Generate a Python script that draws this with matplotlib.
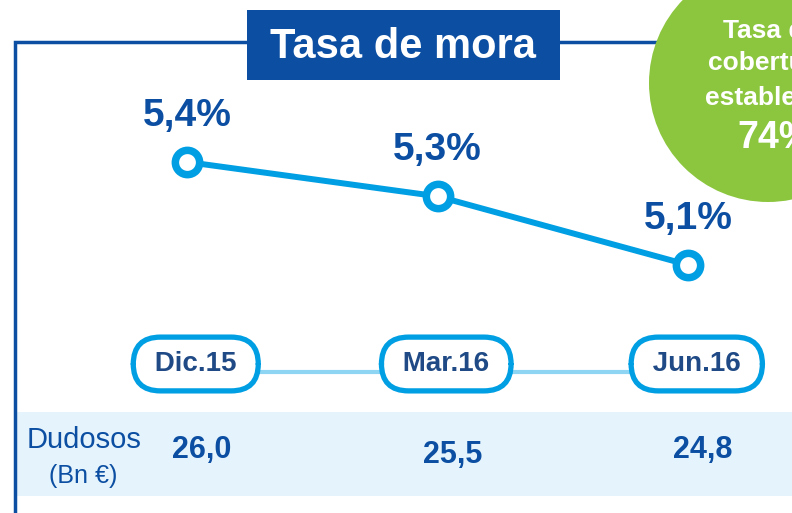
import matplotlib.pyplot as plt
from matplotlib.patches import Rectangle, Circle
from matplotlib.transforms import blended_transform_factory

# datos
periodos = ["Dic.15", "Mar.16", "Jun.16"]
tasa_mora = [5.4, 5.3, 5.1]
etiquetas_tasa = ["5,4%", "5,3%", "5,1%"]
dudosos = ["26,0", "25,5", "24,8"]
cobertura = "74%"

AZUL = "#0B4EA2"
AZUL_OSC = "#1F4A85"
CIAN = "#009FE3"
CIAN_CLARO = "#8ED4F3"
VERDE = "#8CC63F"
FONDO = "#E5F4FC"

plt.rcParams['font.family'] = ['Liberation Sans', 'DejaVu Sans']

fig = plt.figure(figsize=(7.92, 5.13), dpi=100)

# capa de fondo en pixeles
bg = fig.add_axes([0, 0, 1, 1])
bg.set_xlim(0, 792)
bg.set_ylim(513, 0)
bg.axis('off')

bg.add_patch(Rectangle((17, 412), 780, 84, facecolor=FONDO, edgecolor='none', zorder=1))
bg.plot([15, 15, 660], [513, 42, 42], color=AZUL, lw=2.5, solid_joinstyle='miter', zorder=2)
bg.add_patch(Rectangle((247, 10), 313, 70, facecolor=AZUL, edgecolor='none', zorder=3))
bg.text(403, 47, "Tasa de mora", color='white', fontsize=30, fontweight='bold',
        ha='center', va='center', zorder=4)

# circulo verde (recortado por el borde, como en el original)
bg.add_patch(Circle((768, 83), 119, facecolor=VERDE, edgecolor='none', zorder=5))
for txt, x0, y, fs in [("Tasa de", 723, 31, 19), ("cobertura", 708, 63, 19),
                       ("estable", 705, 98, 19), (cobertura, 737, 138, 27)]:
    bg.text(x0, y, txt, color='white', fontsize=fs, fontweight='bold',
            ha='left', va='center', zorder=6)

bg.text(84, 440, "Dudosos", color=AZUL, fontsize=21, ha='center', va='center', zorder=2)
bg.text(83, 476, "(Bn €)", color=AZUL, fontsize=18, ha='center', va='center', zorder=2)

# capa de datos
ax = fig.add_axes([0, 0, 1, 1])
ax.patch.set_alpha(0)
ax.axis('off')
paso = 250.5
ax.set_xlim(-187 / paso, (792 - 187) / paso)
ax.set_ylim(5.4 - (513 - 162) / 343, 5.4 + 162 / 343)

x = list(range(len(periodos)))
ax.plot(x, tasa_mora, color=CIAN, lw=4.3, marker='o', markersize=17.5,
        markerfacecolor='white', markeredgecolor=CIAN, markeredgewidth=5.4, zorder=3)
for xi, v, lab in zip(x, tasa_mora, etiquetas_tasa):
    ax.annotate(lab, (xi, v), xytext=(0, 33), textcoords='offset points',
                ha='center', va='center', fontsize=28, fontweight='bold', color=AZUL)

tr = blended_transform_factory(ax.transData, bg.transData)
ax.plot([x[0], x[-1]], [372, 372], color=CIAN_CLARO, lw=3, transform=tr, zorder=1)
for xi, p in zip(x, periodos):
    ax.text(xi + 0.035, 364, " " + p + " ", transform=tr, ha='center', va='center',
            fontsize=20, fontweight='bold', color=AZUL_OSC, zorder=4,
            bbox=dict(boxstyle='round,pad=0.5,rounding_size=0.98', facecolor='white',
                      edgecolor=CIAN, linewidth=3.8))

val_y = [450, 455, 450]
for xi, d, yy in zip(x, dudosos, val_y):
    ax.text(xi + 0.06, yy, d, transform=tr, ha='center', va='center', fontsize=22,
            fontweight='bold', color=AZUL, zorder=4)

fig.savefig("out.png", dpi=100)
